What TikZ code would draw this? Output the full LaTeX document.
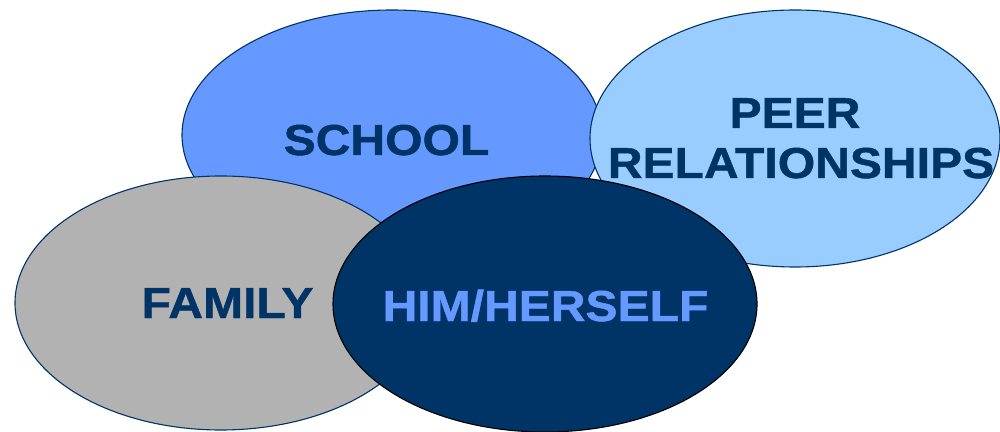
\documentclass[tikz,border=0pt]{standalone}
\usepackage{fontspec}
\newfontfamily\lab{Liberation Sans}[FakeStretch=1.11, FakeBold=1]
\usetikzlibrary{shapes.geometric}
\definecolor{navy}{HTML}{003366}
\definecolor{midblue}{HTML}{6699FF}
\definecolor{lightblue}{HTML}{99CCFF}
\definecolor{grayfill}{HTML}{B2B2B2}
\tikzset{
  blob/.style={ellipse, draw=navy, line width=1.1pt, inner sep=0pt},
  lbl/.style={anchor=base, inner sep=0pt, font=\lab\bfseries\fontsize{43.3}{50}\selectfont, text=navy}
}
\begin{document}
\begin{tikzpicture}[x=1pt,y=1pt]
\useasboundingbox (0,0) rectangle (1000,431);
\node[blob, fill=midblue, minimum width=420pt, minimum height=250pt] (school) at (392,296) {};
\node[blob, fill=lightblue, minimum width=410pt, minimum height=257pt] (peer) at (795,292.5) {};
\node[blob, fill=grayfill, minimum width=412pt, minimum height=254pt] (family) at (221,128) {};
\node[blob, draw=black, fill=navy, minimum width=424pt, minimum height=256pt] (self) at (545,127) {};
\node[lbl] (tschool) at (386.5,276) {SCHOOL};
\node[lbl] (tpeer) at (795,303) {PEER};
\node[lbl] (trel) at (801,253) {RELATIONSHIPS};
\node[lbl] (tfamily) at (227.5,113) {FAMILY};
\node[lbl, text=midblue] (tself) at (545.5,110) {HIM/HERSELF};
\end{tikzpicture}
\end{document}
